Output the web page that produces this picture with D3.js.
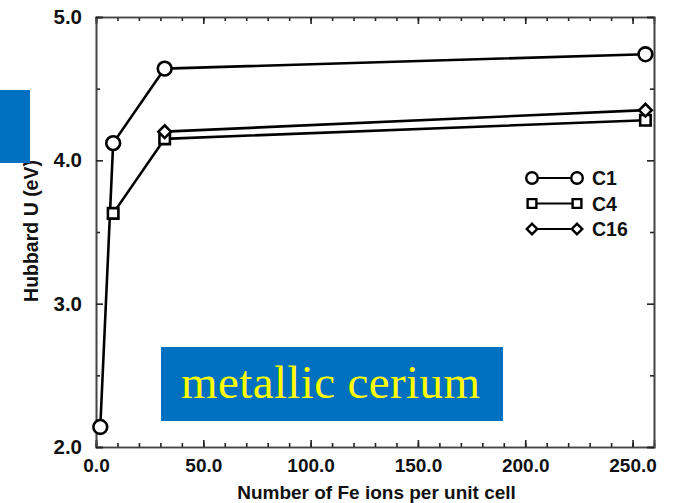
<!DOCTYPE html>
<html>
<head>
<meta charset="utf-8">
<script src="https://cdn.jsdelivr.net/npm/d3@7"></script>
<style>
  body { margin: 0; background: #fff; }
  svg text { font-family: "Liberation Sans", Arial, sans-serif; font-weight: bold; }
</style>
</head>
<body>
<div id="chart-area"></div>
<script>
(() => {

  // series data
  const seriesNames = ['C1', 'C4', 'C16'];
  const c1Ions = [2, 8, 32, 256];
  const c1U = [2.14, 4.12, 4.64, 4.74];
  const c4Ions = [8, 32, 256];
  const c4U = [3.63, 4.15, 4.28];
  const c16Ions = [32, 256];
  const c16U = [4.20, 4.35];

  const xTicks = [0, 50, 100, 150, 200, 250];
  const xMinorTicks = d3.range(0, 260, 10);
  const yTicks = [2, 3, 4, 5];
  const yMinorTicks = [2.5, 3.5, 4.5];

  const widthSvg = 675;
  const heightSvg = 503;
  const margin = { top: 17, right: 21, bottom: 56, left: 96 };
  const widthChart = widthSvg - margin.left - margin.right;
  const heightChart = heightSvg - margin.top - margin.bottom;

  // diamond = square turned 45 degrees
  const series = [
    { name: seriesNames[0], xs: c1Ions, ys: c1U, symbol: d3.symbolCircle, size: 150, rot: 0 },
    { name: seriesNames[1], xs: c4Ions, ys: c4U, symbol: d3.symbolSquare, size: 110, rot: 0 },
    { name: seriesNames[2], xs: c16Ions, ys: c16U, symbol: d3.symbolSquare, size: 80, rot: 45 }
  ].map(s => ({ ...s, points: s.xs.map((x, i) => ({ x: x, y: s.ys[i] })) }));

  const scaleX = d3.scaleLinear().domain([0, 260]).range([0, widthChart]);
  const scaleY = d3.scaleLinear().domain([2, 5]).range([heightChart, 0]);

  const svg = d3.select('#chart-area')
    .append('svg')
      .attr('width', widthSvg)
      .attr('height', heightSvg);

  const chart = svg.append('g')
    .attr('transform', `translate(${margin.left}, ${margin.top})`);

  const fmt = d3.format('.1f');
  const styleAxis = (g, size) => {
    g.selectAll('.domain').attr('stroke', '#444').attr('stroke-width', 1.6);
    g.selectAll('.tick line').attr('stroke', '#222').attr('stroke-width', 1.6);
    g.selectAll('.tick text')
      .attr('font-size', `${size || 19}px`)
      .attr('fill', '#111');
  };

  // minor ticks on all sides
  chart.append('g')
    .attr('transform', `translate(0, ${heightChart})`)
    .call(d3.axisBottom(scaleX).tickValues(xMinorTicks).tickSize(-4).tickFormat(''))
    .call(styleAxis);
  chart.append('g')
    .call(d3.axisTop(scaleX).tickValues(xMinorTicks).tickSize(-4).tickFormat(''))
    .call(styleAxis);
  chart.append('g')
    .call(d3.axisLeft(scaleY).tickValues(yMinorTicks).tickSize(-4).tickFormat(''))
    .call(styleAxis);
  chart.append('g')
    .attr('transform', `translate(${widthChart}, 0)`)
    .call(d3.axisRight(scaleY).tickValues(yMinorTicks).tickSize(-4).tickFormat(''))
    .call(styleAxis);

  // major ticks
  chart.append('g')
    .attr('transform', `translate(0, ${heightChart})`)
    .call(d3.axisBottom(scaleX).tickValues(xTicks).tickSize(-7).tickPadding(12).tickFormat(fmt))
    .call(styleAxis, 19);
  chart.append('g')
    .call(d3.axisTop(scaleX).tickValues(xTicks).tickSize(-7).tickFormat(''))
    .call(styleAxis);
  chart.append('g')
    .call(d3.axisLeft(scaleY).tickValues(yTicks).tickSize(-7).tickPadding(14).tickFormat(fmt))
    .call(styleAxis, 20.5);
  chart.append('g')
    .attr('transform', `translate(${widthChart}, 0)`)
    .call(d3.axisRight(scaleY).tickValues(yTicks).tickSize(-7).tickFormat(''))
    .call(styleAxis);

  // axis titles
  chart.append('text')
    .text('Number of Fe ions per unit cell')
      .attr('text-anchor', 'middle')
      .attr('font-size', '19px')
      .attr('fill', '#111')
      .attr('transform', `translate(${(233 + 520) / 2 - margin.left}, ${heightChart + 52})`);

  chart.append('text')
    .text('Hubbard U (eV)')
      .attr('text-anchor', 'middle')
      .attr('font-size', '19.5px')
      .attr('fill', '#111')
      .attr('transform', `translate(${38 - margin.left}, ${231 - margin.top})rotate(-90)`);

  // series lines and markers
  const line = d3.line().x(d => scaleX(d.x)).y(d => scaleY(d.y));

  series.forEach(s => {
    chart.append('path')
      .datum(s.points)
      .attr('fill', 'none')
      .attr('stroke', '#000')
      .attr('stroke-width', 2.6)
      .attr('d', line);

    chart.selectAll(null)
      .data(s.points)
      .enter()
      .append('path')
        .attr('transform', d => `translate(${scaleX(d.x)}, ${scaleY(d.y)})rotate(${s.rot})`)
        .attr('d', d3.symbol().type(s.symbol).size(s.size))
        .attr('fill', '#fff')
        .attr('stroke', '#000')
        .attr('stroke-width', 2.6);
  });

  // legend
  const legend = svg.append('g')
    .attr('transform', 'translate(532, 178)');

  series.forEach((s, i) => {
    const row = legend.append('g')
      .attr('transform', `translate(0, ${i * 25.5})`);

    row.append('line')
      .attr('x1', 0)
      .attr('x2', 45)
      .attr('stroke', '#000')
      .attr('stroke-width', 2);

    [0, 45].forEach(x => {
      row.append('path')
        .attr('transform', `translate(${x}, 0)rotate(${s.rot})`)
        .attr('d', d3.symbol().type(s.symbol).size(s.size * 0.7))
        .attr('fill', '#fff')
        .attr('stroke', '#000')
        .attr('stroke-width', 2.4);
    });

    row.append('text')
      .attr('x', 60)
      .attr('y', 7)
      .attr('font-size', '19.5px')
      .attr('fill', '#111')
      .text(s.name);
  });

  // overlaid blue boxes
  svg.append('rect')
    .attr('x', 0)
    .attr('y', 90)
    .attr('width', 30)
    .attr('height', 73)
    .attr('fill', '#0070C0');

  svg.append('rect')
    .attr('x', 161)
    .attr('y', 347)
    .attr('width', 342)
    .attr('height', 74)
    .attr('fill', '#0070C0');

  svg.append('text')
    .attr('x', 181)
    .attr('y', 398)
    .attr('font-size', '47px')
    .attr('textLength', 299)
    .attr('fill', '#FFFF00')
    .style('font-family', '"Liberation Serif", "Times New Roman", serif')
    .style('font-weight', 'normal')
    .text('metallic cerium');

})();
</script>
</body>
</html>
